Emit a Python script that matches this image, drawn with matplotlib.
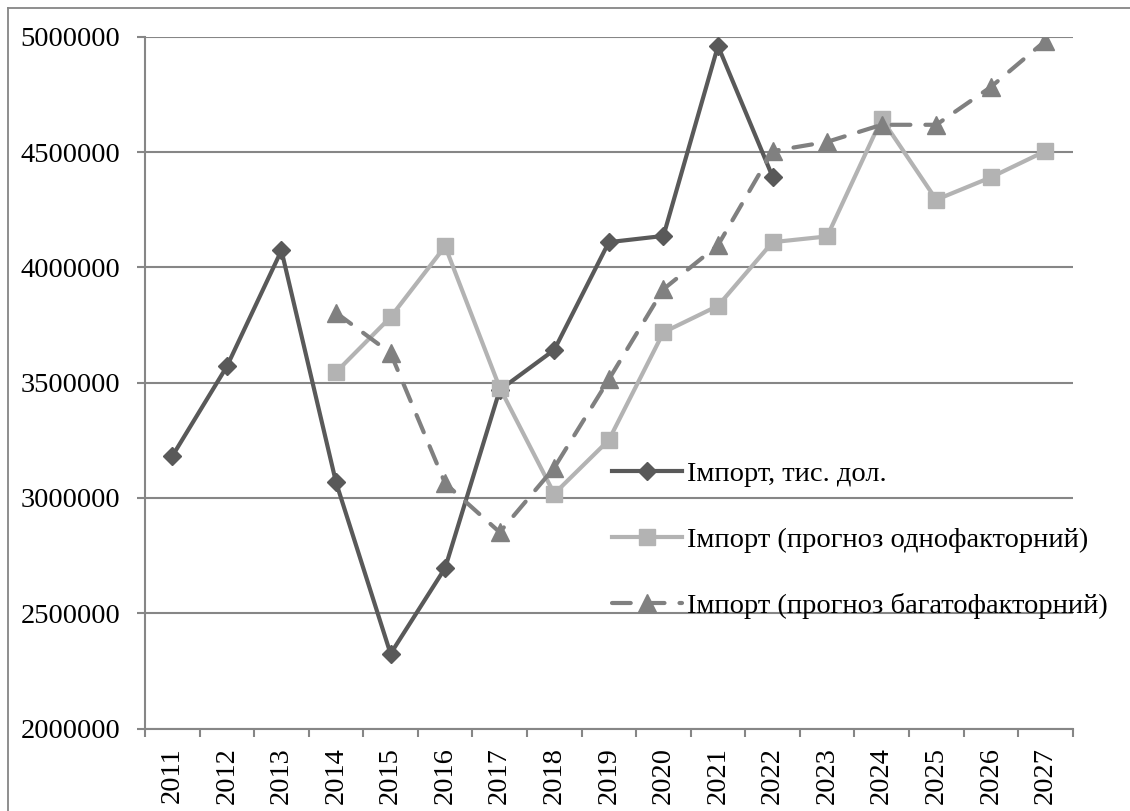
import numpy as np
import matplotlib
matplotlib.use("Agg")
import matplotlib.pyplot as plt
from matplotlib.lines import Line2D

plt.rcParams['font.family'] = ['Liberation Serif', 'DejaVu Serif']

years = [str(y) for y in range(2011, 2028)]
nan = np.nan
imports_actual = [3181000, 3570000, 4073000, 3068000, 2324000, 2696000, 3468000,
                  3642000, 4109000, 4136000, 4960000, 4393000,
                  nan, nan, nan, nan, nan]
forecast_single = [nan, nan, nan, 3545000, 3784000, 4091000, 3478000,
                   3018000, 3251000, 3718000, 3833000, 4109000, 4134000,
                   4644000, 4293000, 4390000, 4504000]
forecast_multi = [nan, nan, nan, 3803000, 3628000, 3063000, 2851000,
                  3131000, 3514000, 3905000, 4096000, 4504000, 4544000,
                  4618000, 4618000, 4782000, 4982000]
labels = ['Імпорт, тис. дол.',
          'Імпорт (прогноз однофакторний)',
          'Імпорт (прогноз багатофакторний)']

W, H = 1130, 811
FS = 20.5
fig = plt.figure(figsize=(W / 100, H / 100), dpi=100)
ax = fig.add_axes([145 / W, 1 - 728.5 / H, (1072.7 - 145) / W, (728.5 - 36.7) / H])

x = np.arange(len(years))
grid_c = '#868686'
c1, c2, c3 = '#595959', '#b3b3b3', '#808080'

ax.plot(x, imports_actual, color=c1, lw=3.0, marker='D', ms=9.5,
        mfc=c1, mec=c1, label=labels[0], zorder=3, solid_joinstyle='round')
ax.plot(x, forecast_single, color=c2, lw=3.0, marker='s', ms=12,
        mfc=c2, mec=c2, label=labels[1], zorder=4, solid_joinstyle='round')
ax.plot(x, forecast_multi, color=c3, lw=3.0, marker='^', ms=13.5,
        mfc=c3, mec=c3, label=labels[2], zorder=5, dashes=(4.5, 3.6),
        dash_capstyle='round')

ax.set_xlim(-0.5, len(years) - 0.5)
ax.set_ylim(2000000, 5000000)
ax.set_yticks(np.arange(2000000, 5000001, 500000))
ax.set_yticklabels([str(v) for v in range(2000000, 5000001, 500000)])
ax.set_xticks(x)
ax.set_xticklabels(years, rotation=90)
ax.set_xticks(np.arange(-0.5, len(years), 1.0), minor=True)
ax.tick_params(axis='x', which='major', length=0, pad=13.5, labelsize=FS)
ax.tick_params(axis='x', which='minor', length=6, width=1.5, color=grid_c, direction='out')
ax.tick_params(axis='y', length=6, width=1.5, color=grid_c, pad=12, labelsize=FS)

ax.yaxis.grid(True, color=grid_c, lw=1.5)
ax.set_axisbelow(True)
for s in ['top', 'right']:
    ax.spines[s].set_visible(False)
for s in ['left', 'bottom']:
    ax.spines[s].set_color(grid_c)
    ax.spines[s].set_linewidth(1.5)

leg = ax.legend(loc='upper left', bbox_to_anchor=(612 / W, 1 - 461 / H),
                bbox_transform=fig.transFigure, frameon=False, fontsize=FS,
                borderpad=0, borderaxespad=0, handlelength=2.45, handletextpad=0.2,
                labelspacing=1.4, numpoints=1)

# outer chart border (left and top visible)
fig.add_artist(Line2D([8 / W, 8 / W], [0, 1 - 7.5 / H], transform=fig.transFigure,
                      color=grid_c, lw=1.3))
fig.add_artist(Line2D([8 / W, 1], [1 - 7.5 / H, 1 - 7.5 / H], transform=fig.transFigure,
                      color=grid_c, lw=1.3))

fig.savefig('out.png', dpi=100, facecolor='white')
